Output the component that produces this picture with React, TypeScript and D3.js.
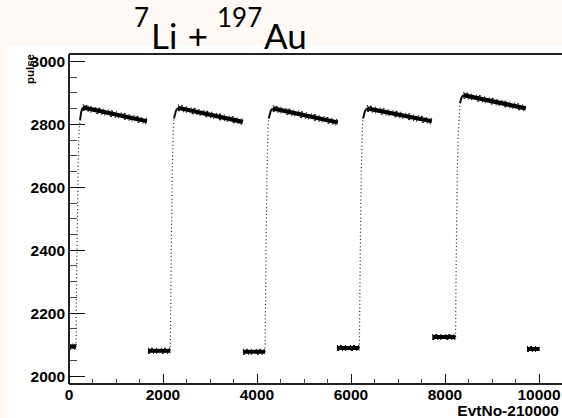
import React from 'react';
import * as d3 from 'd3';

const W = 562;
const H = 418;

// axis ticks
const xTickValues = [0, 2000, 4000, 6000, 8000, 10000];
const xTickLabels = ['0', '2000', '4000', '6000', '8000', '10000'];
const xMinorTicks = [500, 1000, 1500, 2500, 3000, 3500, 4500, 5000, 5500, 6500, 7000, 7500, 8500, 9000, 9500];
const yTickValues = [2000, 2200, 2400, 2600, 2800, 3000];
const yTickLabels = ['2000', '2200', '2400', '2600', '2800', '3000'];
const yMinorTicks = [2050, 2100, 2150, 2250, 2300, 2350, 2450, 2500, 2550, 2650, 2700, 2750, 2850, 2900, 2950];

// baseline (beam-off) segments
const baseStart = [0, 1680, 3700, 5700, 7730, 9745];
const baseEnd = [149, 2155, 4172, 6178, 8225, 10015];
const baseLevel = [2093, 2080, 2077, 2089, 2124, 2086];

// rising edges [event, pulse]
const rise1: [number, number][] = [[149, 2093], [164, 2336], [185, 2549], [198, 2708], [215, 2780], [234, 2813], [260, 2840], [291, 2854]];
const rise2: [number, number][] = [[2155, 2080], [2177, 2400], [2198, 2654], [2219, 2781], [2234, 2819], [2277, 2844], [2319, 2853]];
const rise3: [number, number][] = [[4172, 2077], [4192, 2400], [4213, 2654], [4234, 2781], [4250, 2819], [4292, 2843], [4335, 2851]];
const rise4: [number, number][] = [[6178, 2089], [6198, 2400], [6219, 2654], [6240, 2781], [6256, 2819], [6298, 2843], [6340, 2851]];
const rise5: [number, number][] = [[8225, 2124], [8236, 2336], [8250, 2500], [8262, 2654], [8280, 2760], [8298, 2813], [8319, 2867], [8350, 2885], [8390, 2893]];
const rises = [rise1, rise2, rise3, rise4, rise5];

// plateau (beam-on) segments
const plateauStart = [291, 2319, 4335, 6340, 8390];
const plateauStartLevel = [2854, 2853, 2851, 2851, 2893];
const plateauEnd = [1660, 3700, 5720, 7720, 9720];
const plateauEndLevel = [2810, 2808, 2806, 2810, 2851];

const PL = 69, PT = 54, PB = 384, PR = 562;

export default function App() {
  const x = d3.scaleLinear().domain([0, 10000]).range([69, 539]);
  const y = d3.scaleLinear().domain([2000, 3000]).range([376, 61.5]);
  const line = d3.line<[number, number]>().x(d => x(d[0])).y(d => y(d[1]));
  const seg = (x0: number, v0: number, x1: number, v1: number, dy = 0) =>
    `M${x(x0)},${y(v0) + dy}L${x(x1)},${y(v1) + dy}`;

  const font = "'Liberation Sans', Arial, Helvetica, sans-serif";

  return (
    <svg width={W} height={H} style={{ position: 'absolute', left: 0, top: 0 }} xmlns="http://www.w3.org/2000/svg">
      <rect x={0} y={0} width={W} height={H} fill="#fef9f5" />
      <rect x={7} y={45} width={W - 7} height={H - 45} fill="#ffffff" />

      {/* title */}
      <g fontFamily="Lato, 'Open Sans', sans-serif" fill="#000">
        <text x={134} y={27} fontSize={26}>7</text>
        <text x={151} y={48.5} fontSize={35}>Li</text>
        <text x={198} y={48.5} fontSize={35} textAnchor="middle">+</text>
        <text x={217} y={27} fontSize={26}>197</text>
        <text x={264} y={48.5} fontSize={35}>Au</text>
      </g>

      <defs>
        <clipPath id="plotclip">
          <rect x={PL} y={PT} width={PR - PL} height={PB - PT} />
        </clipPath>
      </defs>

      <g clipPath="url(#plotclip)">
        {rises.map((r, i) => (
          <path key={'r' + i} d={line(r) || ''} fill="none" stroke="#222" strokeWidth={1.2} strokeDasharray="1 2.6" />
        ))}
        {rises.map((r, i) => (
          <path key={'rk' + i} d={line(r.slice(-3) as [number, number][]) || ''} fill="none" stroke="#111" strokeWidth={2} />
        ))}
        {baseStart.map((s, i) => (
          <g key={'b' + i}>
            <path d={seg(s, baseLevel[i], baseEnd[i], baseLevel[i])} fill="none" stroke="#000" strokeWidth={4} />
            <path d={seg(s, baseLevel[i], baseEnd[i], baseLevel[i], -2.5)} fill="none" stroke="#000" strokeWidth={1} strokeDasharray="1 2 2 3 1 4" />
            <path d={seg(s, baseLevel[i], baseEnd[i], baseLevel[i], 2.5)} fill="none" stroke="#000" strokeWidth={1} strokeDasharray="2 3 1 2 1 5" />
          </g>
        ))}
        {plateauStart.map((s, i) => (
          <g key={'p' + i}>
            <path d={seg(s, plateauStartLevel[i], plateauEnd[i], plateauEndLevel[i])} fill="none" stroke="#000" strokeWidth={4.2} />
            <path d={seg(s, plateauStartLevel[i], plateauEnd[i], plateauEndLevel[i], -2.8)} fill="none" stroke="#000" strokeWidth={1.1} strokeDasharray="1 2 2 3 1 4" />
            <path d={seg(s, plateauStartLevel[i], plateauEnd[i], plateauEndLevel[i], 2.8)} fill="none" stroke="#000" strokeWidth={1.1} strokeDasharray="2 3 1 2 1 5" />
          </g>
        ))}
      </g>

      {/* frame */}
      <g stroke="#222" strokeWidth={1.2} fill="none" shapeRendering="crispEdges">
        <line x1={PL} y1={PT} x2={PR} y2={PT} />
        <line x1={PL} y1={PB} x2={PR} y2={PB} />
        <line x1={PL} y1={PT} x2={PL} y2={PB} />
      </g>

      {/* ticks */}
      <g stroke="#111" strokeWidth={1} shapeRendering="crispEdges">
        {yTickValues.map(v => (
          <line key={'ym' + v} x1={PL} x2={PL + 16} y1={y(v)} y2={y(v)} />
        ))}
        {yMinorTicks.map(v => (
          <line key={'yn' + v} x1={PL} x2={PL + 8} y1={y(v)} y2={y(v)} stroke="#444" />
        ))}
        {xTickValues.map(v => (
          <line key={'xm' + v} x1={x(v)} x2={x(v)} y1={PB} y2={PB - 10} />
        ))}
        {xMinorTicks.map(v => (
          <line key={'xn' + v} x1={x(v)} x2={x(v)} y1={PB} y2={PB - 5} stroke="#444" />
        ))}
      </g>

      <g fontFamily={font} fontWeight="bold" fontSize={15.5} fill="#000">
        {yTickValues.map((v, i) => (
          <text key={'yl' + v} x={65} y={y(v) + 5.5} textAnchor="end">{yTickLabels[i]}</text>
        ))}
        {xTickValues.map((v, i) => (
          <text key={'xl' + v} x={x(v)} y={400} textAnchor="middle">{xTickLabels[i]}</text>
        ))}
        <text x={559} y={416} textAnchor="end" fontSize={15.5}>EvtNo-210000</text>
        <text transform="translate(33.5,54) rotate(-90)" textAnchor="end" fontSize={11.5}>pulse</text>
      </g>
    </svg>
  );
}
